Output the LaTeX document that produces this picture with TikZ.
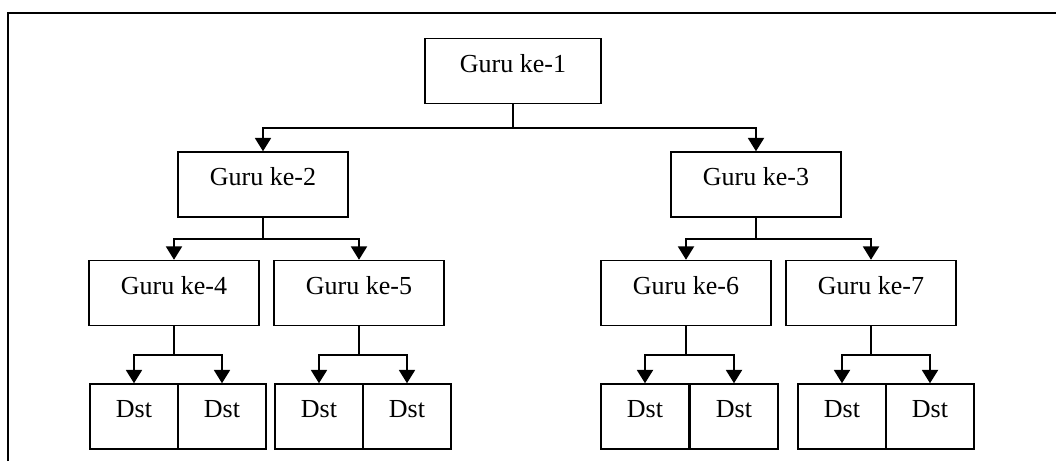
\documentclass[tikz,border=0pt]{standalone}
\usepackage{fontspec}
\setmainfont{Liberation Serif}
\usetikzlibrary{arrows.meta,calc}
\tikzset{
	guru/.style={draw, line width=1.1pt, minimum width=127.5pt, minimum height=48.75pt, inner sep=0pt, text height=13pt, text depth=11.5pt, font=\fontsize{19.5}{23}\selectfont},
	dst/.style={guru, minimum width=66pt},
	conn/.style={line width=1.4pt, -{Triangle[width=12pt,length=10pt]}},
}
\begin{document}
\begin{tikzpicture}[x=0.75pt, y=-0.75pt]
	\useasboundingbox (0,0) rectangle (1056,461);
	\draw[line width=1.3pt] (8,461) -- (8,13) -- (1056,13);
	
	\node[guru, minimum width=132pt] (g1) at (513,71) {Guru ke-1};
	\foreach \n/\x/\y in {2/263/184.5, 3/756/184.5, 4/174/293, 5/359/293, 6/686/293, 7/871/293}
	{
		\node[guru] (g\n) at (\x,\y) {Guru ke-\n};
	}
	\foreach \n/\x in {1/134, 2/222, 3/319, 4/407, 5/645, 6/734, 7/842, 8/930}
	{
		\node[dst] (d\n) at (\x,416.5) {Dst};
	}
	
	\foreach \p/\c in {g1/g2, g1/g3, g2/g4, g2/g5, g3/g6, g3/g7, g4/d1, g4/d2, g5/d3, g5/d4, g6/d5, g6/d6, g7/d7, g7/d8}
	{
		\draw[conn] (\p.south) |- ($(\p.south)!0.5!(\c.north)$) -| (\c.north);
	}
\end{tikzpicture}
\end{document}
